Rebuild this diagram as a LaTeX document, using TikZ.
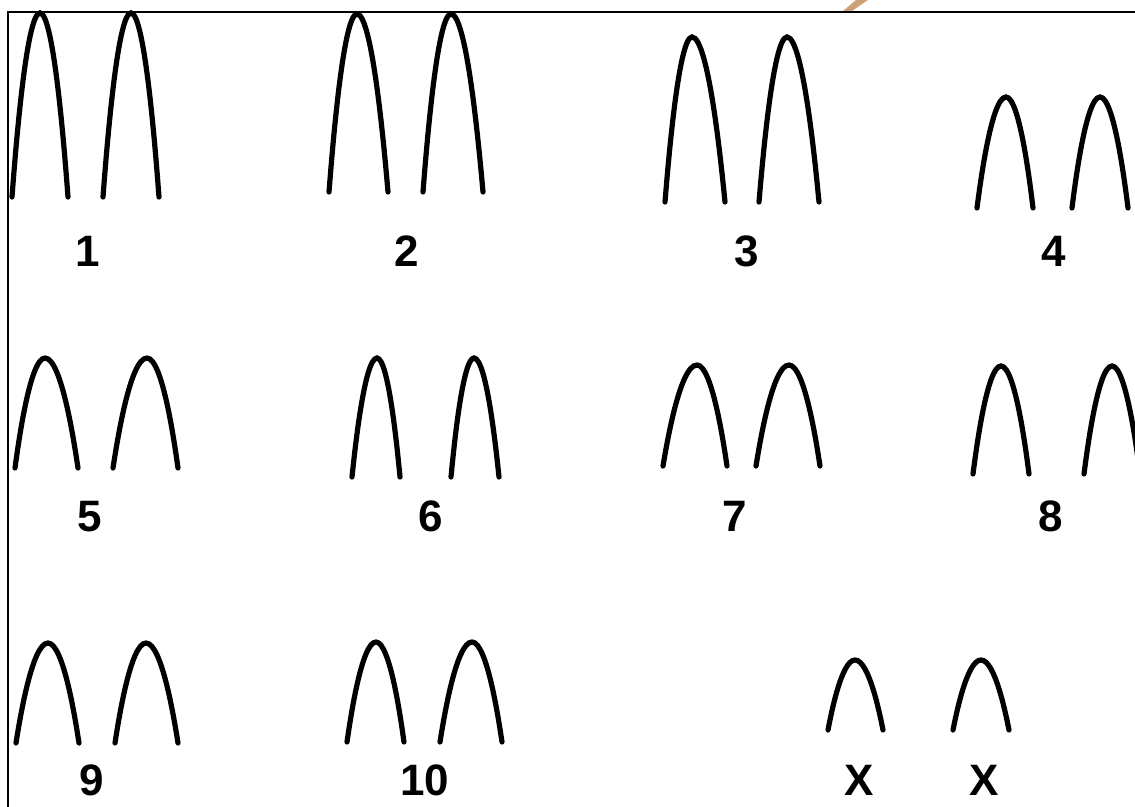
\documentclass[tikz,border=0pt]{standalone}
\usepackage{fontspec}
\setmainfont{Liberation Sans}
\usepackage{tikz}
\usetikzlibrary{positioning}
\definecolor{wmark}{RGB}{205,160,120}
\begin{document}
\begin{tikzpicture}[
  x=0.5pt, y=-0.5pt,
  arch/.style={line width=2.6pt,line cap=round},
  frame/.style={line width=1pt},
  num/.style={font=\fontsize{22}{26}\selectfont\bfseries,anchor=base,inner sep=0pt},
]
\useasboundingbox (0,0) rectangle (1135,807);
% frame and mark
\draw[frame] (8,807) -- (8,12) -- (1135,12);
\fill[wmark] (843,11) -- (856,0) -- (868,0) -- (852,11) -- cycle;
% first row
\draw[arch] (12,197) parabola bend (40,13) (68,197);
\draw[arch] (103,197) parabola bend (131,13) (159,197);
\node[num] (n1) at (88,267) {1};
\draw[arch] (329,192) parabola bend (357,14) (388,192);
\draw[arch] (423,192) parabola bend (451,14) (483,192);
\node[num] (n2) at (407,267) {2};
\draw[arch] (665,202) parabola bend (692,37) (725,202);
\draw[arch] (759,202) parabola bend (787,37) (819,202);
\node[num] (n3) at (747,267) {3};
\draw[arch] (977,208) parabola bend (1006,97) (1033,208);
\draw[arch] (1072,208) parabola bend (1100,97) (1128,208);
\node[num] (n4) at (1054,267) {4};
% second row
\draw[arch] (15,468) parabola bend (45,358) (78,468);
\draw[arch] (113,468) parabola bend (147,358) (178,468);
\node[num] (n5) at (90,531) {5};
\draw[arch] (352,477) parabola bend (377,358) (400,477);
\draw[arch] (451,477) parabola bend (474,358) (499,477);
\node[num] (n6) at (431,531) {6};
\draw[arch] (663,466) parabola bend (697,365) (727,466);
\draw[arch] (756,466) parabola bend (789,365) (820,466);
\node[num] (n7) at (735,531) {7};
\draw[arch] (973,474) parabola bend (1001,366) (1029,474);
\draw[arch] (1084,474) parabola bend (1112,366) (1140,474);
\node[num] (n8) at (1051,531) {8};
% third row
\draw[arch] (16,743) parabola bend (48,643) (79,743);
\draw[arch] (115,743) parabola bend (146,643) (178,743);
\node[num] (n9) at (92,795) {9};
\draw[arch] (347,742) parabola bend (376,642) (404,742);
\draw[arch] (440,742) parabola bend (472,642) (502,742);
\node[num] (n10) at (425,795) {10};
\draw[arch] (828,730) parabola bend (855,660) (883,730);
\draw[arch] (953,730) parabola bend (981,660) (1009,730);
\node[num] (x1) at (859,795) {X};
\node[num] (x2) at (984,795) {X};
\end{tikzpicture}
\end{document}
